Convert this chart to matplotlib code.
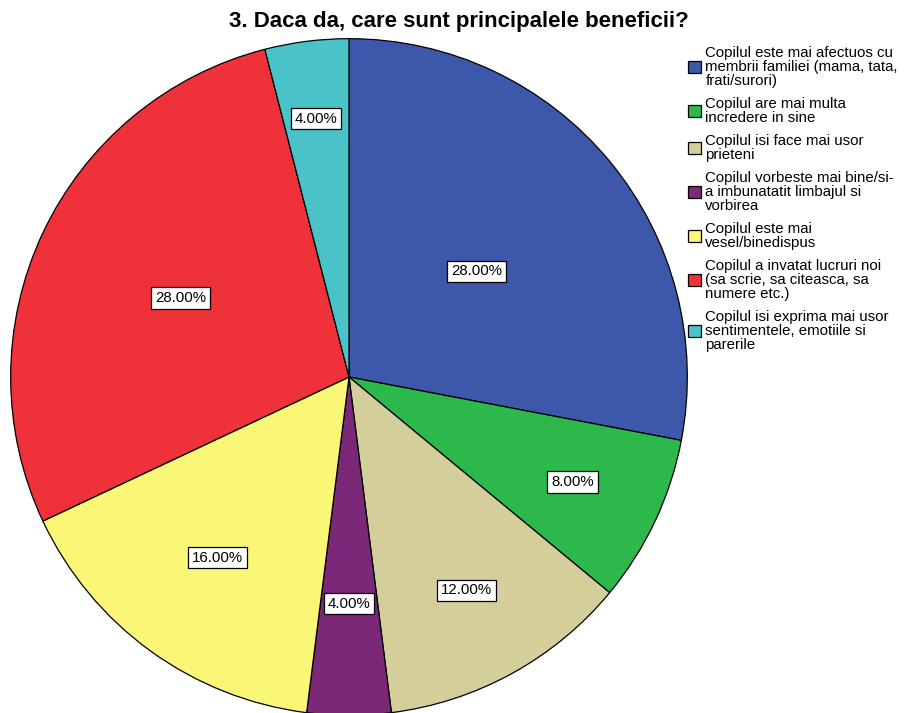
import matplotlib
matplotlib.use("Agg")
import matplotlib.pyplot as plt
import numpy as np

plt.rcParams['font.family'] = ['Liberation Sans', 'DejaVu Sans']

# categories (legend text, wrapped like the original)
labels = [
    "Copilul este mai afectuos cu\nmembrii familiei (mama, tata,\nfrati/surori)",
    "Copilul are mai multa\nincredere in sine",
    "Copilul isi face mai usor\nprieteni",
    "Copilul vorbeste mai bine/si-\na imbunatatit limbajul si\nvorbirea",
    "Copilul este mai\nvesel/binedispus",
    "Copilul a invatat lucruri noi\n(sa scrie, sa citeasca, sa\nnumere etc.)",
    "Copilul isi exprima mai usor\nsentimentele, emotiile si\nparerile",
]
percents = [28.0, 8.0, 12.0, 4.0, 16.0, 28.0, 4.0]
colors = ["#3D58AB", "#2DB84B", "#D4CE9B", "#7B2878", "#FBF776", "#EF3139", "#49C3C8"]
# how far out each percent box sits (fraction of radius)
label_r = [0.49, 0.73, 0.72, 0.67, 0.66, 0.55, 0.77]

fig = plt.figure(figsize=(9.1, 7.13), dpi=100)
W, H = 910, 713
cx, cy, r = 349, 377, 339
ax = fig.add_axes([(cx - r) / W, (H - cy - r) / H, 2 * r / W, 2 * r / H])

wedges, _ = ax.pie(percents, colors=colors, startangle=90, counterclock=False,
                   radius=1, wedgeprops=dict(edgecolor="black", linewidth=0.9))
ax.set_xlim(-1.002, 1.002)
ax.set_ylim(-1.002, 1.002)
ax.set_aspect("equal")
ax.axis("off")

for w, p, lr in zip(wedges, percents, label_r):
    mid = np.deg2rad((w.theta1 + w.theta2) / 2)
    ax.text(lr * np.cos(mid), lr * np.sin(mid), f"{p:.2f}%", ha="center", va="center",
            fontsize=10.8, bbox=dict(boxstyle="square,pad=0.25", fc="white", ec="black", lw=0.9))

fig.text(459 / W, 1 - 21 / H, "3. Daca da, care sunt principalele beneficii?",
         ha="center", va="center", fontsize=16, fontweight="bold")

leg = fig.legend(wedges, labels, loc="upper left", bbox_to_anchor=(688 / W, 1 - 46 / H),
                 frameon=False, fontsize=10.8, handlelength=0.85, handleheight=0.85,
                 handletextpad=0.3, labelspacing=0.6, borderaxespad=0, borderpad=0)
for t in leg.get_texts():
    t.set_linespacing(1.0)

fig.savefig("out.png", dpi=100)
